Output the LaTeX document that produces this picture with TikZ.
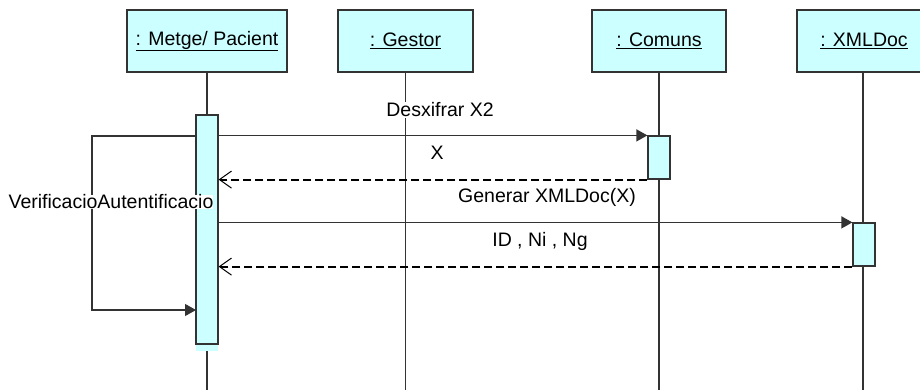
\documentclass[tikz,border=0pt]{standalone}
\usepackage{fontspec}
\setmainfont{Liberation Sans}
\usetikzlibrary{arrows.meta}
\definecolor{objfill}{HTML}{CCFFFF}
\definecolor{edge}{HTML}{333333}
\tikzset{
  objbox/.style={draw=edge, line width=1.2pt, fill=objfill, minimum height=62pt, inner sep=0pt,
                 font=\fontsize{19.5}{22}\selectfont},
  actbar/.style={draw=edge, line width=1.2pt, fill=objfill, minimum width=22pt, inner sep=0pt},
  lifeline/.style={draw=edge, line width=1.2pt},
  call/.style={draw=edge, line width=1.2pt, -{Triangle[length=11pt,width=12pt]}},
  ret/.style={draw=black, line width=2pt, dash pattern=on 8pt off 4pt,
              -{Straight Barb[length=12pt,width=17pt,line width=1pt]}},
  msg/.style={fill=white, inner sep=1pt, font=\fontsize{19.5}{22}\selectfont}
}
\begin{document}
\begin{tikzpicture}[x=1pt,y=-1pt]
\clip (0,0) rectangle (920,390);
\fill[white] (0,0) rectangle (920,390);

% objects
\node[objbox, minimum width=160pt] (metge) at (207,41) {\underline{: Metge/ Pacient}};
\node[objbox, minimum width=135pt] (gestor) at (405.5,41) {\underline{: Gestor}};
\node[objbox, minimum width=134pt] (comuns) at (659,41) {\underline{: Comuns}};
\node[objbox, minimum width=134pt] (xmldoc) at (864,41) {\underline{: XMLDoc}};

% lifeline ends
\coordinate (mend) at (207,390);
\coordinate (gend) at (405.5,390);
\coordinate (cend) at (659,390);
\coordinate (xend) at (863,390);

\draw[lifeline] (metge.south) -- (mend);
\draw[lifeline] (gestor.south) -- (gend);
\draw[lifeline] (comuns.south) -- (cend);
\draw[lifeline] (xmldoc.south -| xend) -- (xend);

% self-call loop corners
\coordinate (lt) at (92,136);
\coordinate (lb) at (92,310);

% activation bars
\fill[objfill] (196,344) rectangle (218,351);
\draw[call] (207,136) -- (lt) -- (lb) -- (196,310);
\node[actbar, minimum height=229pt] (mbar) at (207,229.5) {};
\node[actbar, minimum height=43pt] (cbar) at (659,157.5) {};
\node[actbar, minimum height=43pt] (xbar) at (864,244.5) {};

% messages
\draw[call] (mbar.east |- cbar.north) -- (cbar.north west);
\draw[ret] (cbar.south west) -- (mbar.east |- cbar.south);
\draw[call] (mbar.east |- xbar.north) -- (xbar.north west);
\draw[ret] (xbar.south west) -- (mbar.east |- xbar.south);

% labels
\node[msg] (l1) at (440,110) {Desxifrar X2};
\node[msg] (l2) at (437,153) {X};
\node[msg] (l3) at (547,197) {Generar XMLDoc(X)};
\node[msg] (l4) at (540,241) {ID , Ni , Ng};
\node[msg, inner sep=0pt] (l5) at (111,202) {VerificacioAutentificacio};
\end{tikzpicture}
\end{document}
